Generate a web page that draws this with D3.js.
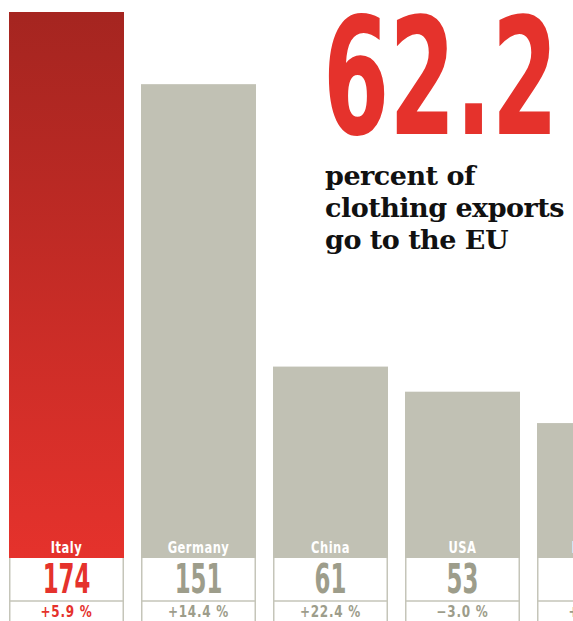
<!DOCTYPE html>
<html><head><meta charset="utf-8">
<script src="https://cdn.jsdelivr.net/npm/d3@7"></script>
<style>
html,body{margin:0;padding:0;background:#fff;}
svg{display:block;}
</style></head>
<body>
<svg id="chart" width="573" height="621"></svg>
<script>
// ---- data ----
const categories = ["Italy", "Germany", "China", "USA", "France"];
const values = [174, 151, 61, 53, 43];
const changes = ["+5.9 %", "+14.4 %", "+22.4 %", "\u22123.0 %", "+4.1 %"];
const highlight = ["Italy"];
const headlineNumber = "62.2";
const headlineLines = ["percent of", "clothing exports", "go to the EU"];

// ---- styles ----
const RED = "#e5322c", RED_DARK = "#a52520", GRAY = "#c1c1b4", GRAY_TXT = "#9d9d8b", BORDER = "#c5c5b9";
const narrow = "'DejaVu Sans Condensed','Liberation Sans Narrow','Liberation Sans',sans-serif";

const svg = d3.select("#chart");
const defs = svg.append("defs");
const grad = defs.append("linearGradient").attr("id","redGrad").attr("x1",0).attr("y1",0).attr("x2",0).attr("y2",1);
grad.append("stop").attr("offset","0%").attr("stop-color",RED_DARK);
grad.append("stop").attr("offset","100%").attr("stop-color",RED);

const step = 132, gap = 17, left = 9;
const x = d3.scaleBand().domain(categories)
  .range([left, left + step * categories.length - gap])
  .paddingInner(gap / step).paddingOuter(0);
const baseY = 558;
const y = d3.scaleLinear().domain([0, d3.max(values)]).range([baseY, 12]);

const data = categories.map((c, i) => ({c, v: values[i], ch: changes[i], hi: highlight.includes(c)}));

const g = svg.selectAll("g.bar").data(data).join("g").attr("class","bar");

// bars
g.append("rect")
  .attr("x", d => x(d.c)).attr("width", x.bandwidth())
  .attr("y", d => y(d.v)).attr("height", d => baseY - y(d.v))
  .attr("fill", d => d.hi ? "url(#redGrad)" : GRAY);

// boxes below
const boxTop = baseY, boxMid = 601, boxBot = 640;
g.append("path")
  .attr("d", d => {
    const x0 = x(d.c) + 0.75, x1 = x(d.c) + x.bandwidth() - 0.75;
    return `M${x0},${boxTop}V${boxBot}M${x1},${boxTop}V${boxBot}M${x0},${boxMid}H${x1}`;
  })
  .attr("fill","none").attr("stroke",BORDER).attr("stroke-width",1.5);

// category label inside bar
g.append("text")
  .attr("transform", d => `translate(${x(d.c) + x.bandwidth()/2},553) scale(0.8,1)`)
  .attr("text-anchor","middle")
  .attr("font-family", narrow).attr("font-weight","bold").attr("font-size",16)
  .attr("letter-spacing",0.6)
  .attr("fill","#fff").text(d => d.c);

// value
g.append("text")
  .attr("transform", d => `translate(${x(d.c) + x.bandwidth()/2},593) scale(0.62,1)`)
  .attr("text-anchor","middle")
  .attr("font-family", narrow).attr("font-weight","bold").attr("font-size",41)
  .attr("fill", d => d.hi ? RED : GRAY_TXT).text(d => d.v);

// change
g.append("text")
  .attr("transform", d => `translate(${x(d.c) + x.bandwidth()/2},617) scale(0.86,1)`)
  .attr("text-anchor","middle")
  .attr("font-family", narrow).attr("font-weight","bold").attr("font-size",15.5)
  .attr("letter-spacing",0.9)
  .attr("fill", d => d.hi ? RED : GRAY_TXT).text(d => d.ch);

// headline number
svg.append("text")
  .attr("x", 323).attr("y", 134)
  .attr("textLength", 235).attr("lengthAdjust","spacingAndGlyphs")
  .attr("font-family", narrow).attr("font-weight","bold").attr("font-size",162)
  .attr("fill", RED).text(headlineNumber);

// headline text
svg.append("text")
  .attr("transform","translate(325,0) scale(1.04,1)")
  .attr("font-family","'DejaVu Serif','Liberation Serif',serif").attr("font-weight","bold")
  .attr("font-size",26).attr("letter-spacing",-0.5).attr("fill","#111")
  .selectAll("tspan").data(headlineLines).join("tspan")
  .attr("x", 0).attr("y", (d,i) => 185 + i*32).text(d => d);
</script>
</body></html>
